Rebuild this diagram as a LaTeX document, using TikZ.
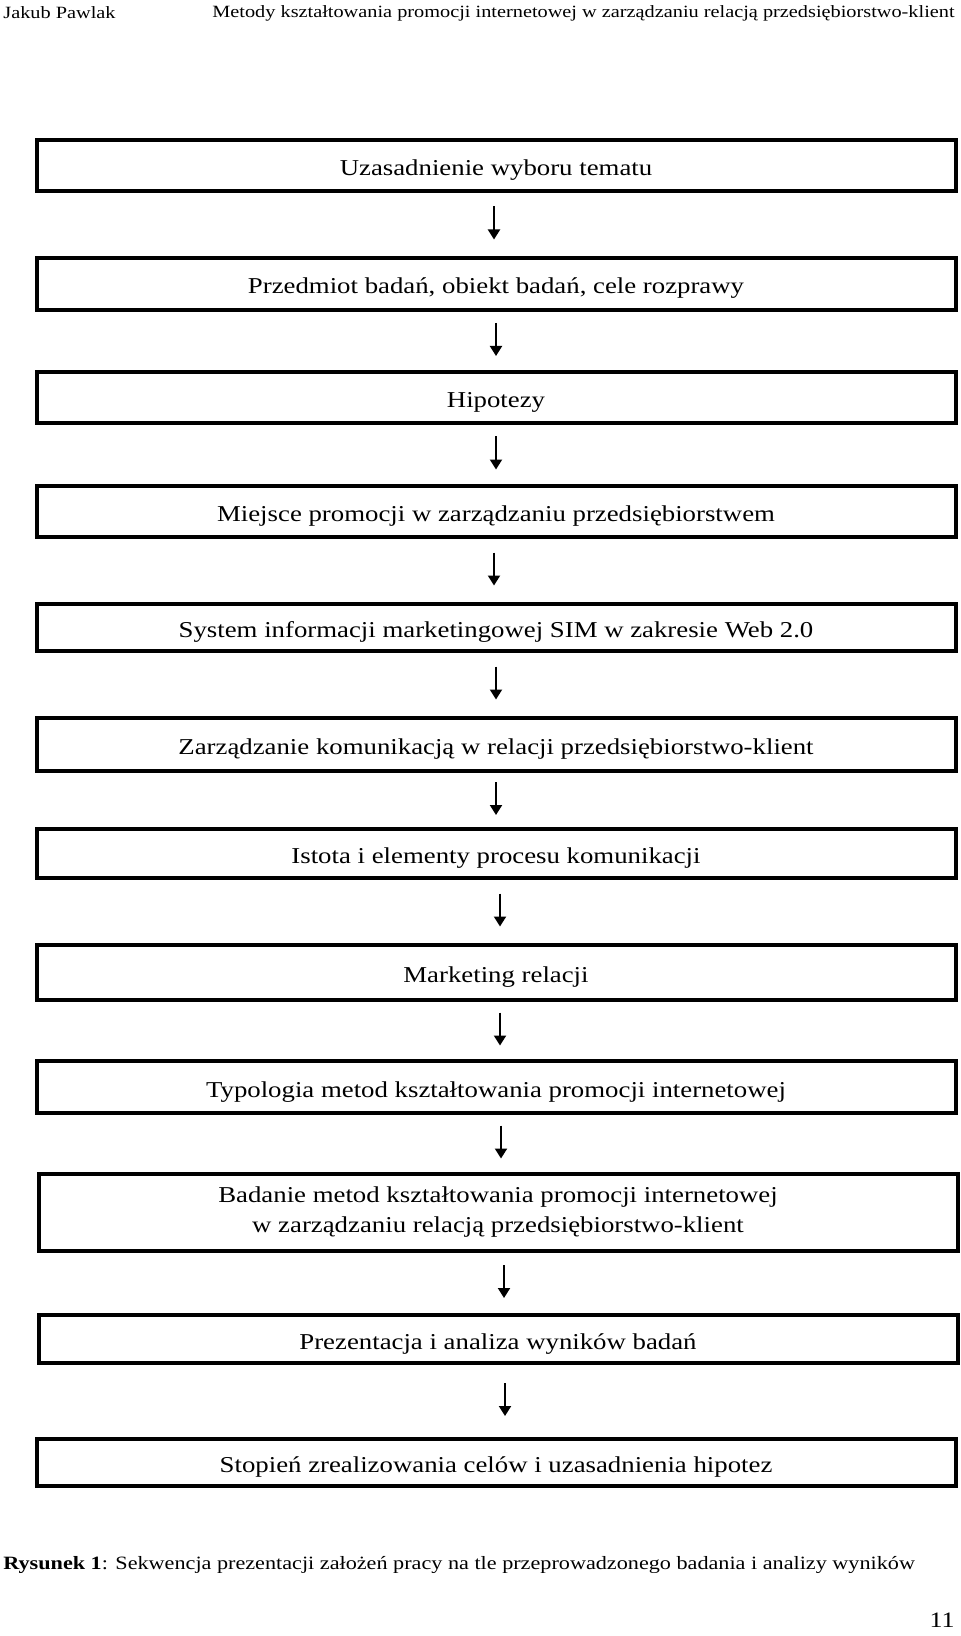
\documentclass[tikz,border=0pt]{standalone}
\usepackage{fontspec}
\setmainfont[FakeStretch=1.18]{Liberation Serif}
\usetikzlibrary{arrows.meta,calc}

\tikzset{
  etap/.style={draw, line width=2pt, minimum width=459.5pt, inner sep=0pt, align=center,
    text height=10pt, text depth=0pt, font=\fontsize{11.35}{15}\selectfont},
  pijl/.style={line width=1pt, -{Triangle[width=6pt,length=5pt]}},
  opis/.style={inner sep=0pt, font=\fontsize{8.6}{10}\selectfont},
}

\begin{document}
\begin{tikzpicture}[x=0.5pt,y=-0.5pt]
  \useasboundingbox (0,0) rectangle (960,1636);

  % naglowek strony
  \node[opis, anchor=west] (autor) at (3,13) {Jakub Pawlak};
  \node[opis, anchor=east] (tytul) at (955,13) {Metody kształtowania promocji internetowej w zarządzaniu relacją przedsiębiorstwo-klient};

  % etapy
  \node[etap, minimum height=25.5pt] (b1) at (496,165.5) {Uzasadnienie wyboru tematu};
  \node[etap, minimum height=26pt] (b2) at (496,284) {Przedmiot badań, obiekt badań, cele rozprawy};
  \node[etap, minimum height=25.5pt] (b3) at (496,397.5) {Hipotezy};
  \node[etap, minimum height=25.5pt] (b4) at (496,511.5) {Miejsce promocji w zarządzaniu przedsiębiorstwem};
  \node[etap, minimum height=23.5pt] (b5) at (496,627.5) {System informacji marketingowej SIM w zakresie Web 2.0};
  \node[etap, minimum height=26.5pt] (b6) at (496,744.5) {Zarządzanie komunikacją w relacji przedsiębiorstwo-klient};
  \node[etap, minimum height=24.5pt] (b7) at (496,853.5) {Istota i elementy procesu komunikacji};
  \node[etap, minimum height=27.5pt] (b8) at (496,972.5) {Marketing relacji};
  \node[etap, minimum height=26pt] (b9) at (496,1087) {Typologia metod kształtowania promocji internetowej};
  \node[etap, minimum height=38.5pt, text height=, text depth=] (b10) at (498,1212.5) {Badanie metod kształtowania promocji internetowej\\w zarządzaniu relacją przedsiębiorstwo-klient};
  \node[etap, minimum height=24pt] (b11) at (498,1339) {Prezentacja i analiza wyników badań};
  \node[etap, minimum height=23.5pt] (b12) at (496,1462.5) {Stopień zrealizowania celów i uzasadnienia hipotez};

  % strzalki
  \foreach \a/\b/\dx in {b1/b2/-2, b2/b3/0, b3/b4/0, b4/b5/-2, b5/b6/0, b6/b7/0,
      b7/b8/4, b8/b9/4, b9/b10/4, b10/b11/6, b11/b12/8}
    \draw[pijl] ($(\a.south)!0.5!(\b.north)$) ++(\dx,-18) -- ++(0,33);

  % podpis
  \node[opis, anchor=west, font=\fontsize{9.4}{11}\selectfont] (podpis) at (3,1565) {\textbf{Rysunek 1}: Sekwencja prezentacji założeń pracy na tle przeprowadzonego badania i analizy wyników};
  \node[opis, anchor=east, font=\fontsize{11}{13}\selectfont] (strona) at (955,1620) {11};
\end{tikzpicture}
\end{document}
